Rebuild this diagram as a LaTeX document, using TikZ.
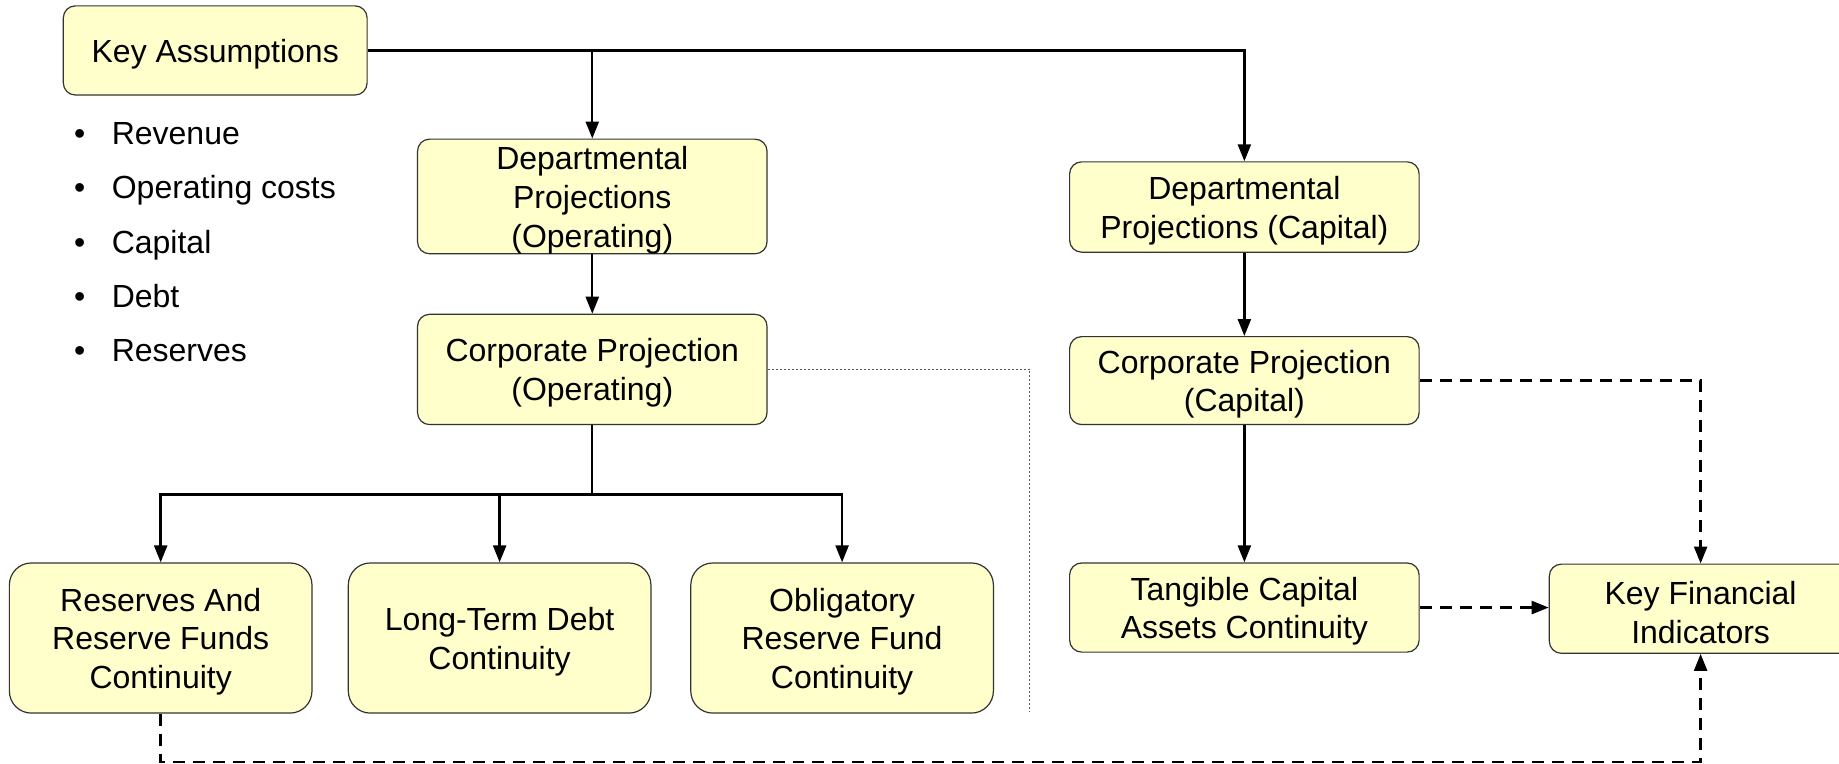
\documentclass[tikz,border=0pt]{standalone}
\usepackage{fontspec}
\setmainfont{Liberation Sans}
\usetikzlibrary{arrows.meta}
\definecolor{boxfill}{HTML}{FFFFCC}
\definecolor{boxline}{HTML}{333333}
\def\pxu{0.5865pt}
\newcommand\topstrut{\rule{0pt}{15.2pt}}
\tikzset{
  box/.style={draw=boxline, fill=boxfill, rounded corners=6pt, align=center,
    font=\fontsize{16}{19.4}\selectfont, inner sep=0pt, line width=0.6pt},
  bigbox/.style={box, rounded corners=11pt},
  btext/.style={font=\fontsize{16}{19.4}\selectfont, inner sep=0pt, anchor=base},
  link/.style={line width=1.2pt, -{Triangle[length=8.5pt,width=6.5pt]}},
  plain/.style={line width=1.2pt},
  dlink/.style={line width=1.2pt, dash pattern=on 6pt off 4pt, -{Triangle[length=8.5pt,width=6.5pt]}},
  dotline/.style={line width=0.4pt, gray!70!black, dash pattern=on 1pt off 1pt},
}
\begin{document}
\begin{tikzpicture}[x=0.5865pt, y=-0.5865pt]
\useasboundingbox (0,0) rectangle (1568,651);

% boxes
\node[box, minimum width=259*\pxu, minimum height=76*\pxu] (ka) at (183.5,43) {\topstrut Key Assumptions};
\node[box, minimum width=298*\pxu, minimum height=95*\pxu] (do) at (505,167.5) {\topstrut Departmental\\Projections\\(Operating)};
\node[box, minimum width=298*\pxu, minimum height=94*\pxu] (co) at (505,315) {\topstrut Corporate Projection\\(Operating)};
\node[box, minimum width=298*\pxu, minimum height=77*\pxu] (dc) at (1061,176.5) {\topstrut Departmental\\Projections (Capital)};
\node[box, minimum width=298*\pxu, minimum height=75*\pxu] (cc) at (1061,324.5) {\topstrut Corporate Projection\\(Capital)};
\node[bigbox, minimum width=258*\pxu, minimum height=128*\pxu] (rf) at (137,544) {\topstrut Reserves And\\Reserve Funds\\Continuity};
\node[bigbox, minimum width=258*\pxu, minimum height=128*\pxu] (lt) at (426,544) {\topstrut Long-Term Debt\\Continuity};
\node[bigbox, minimum width=258*\pxu, minimum height=128*\pxu] (ob) at (718,544) {\topstrut Obligatory\\Reserve Fund\\Continuity};
\node[box, minimum width=298*\pxu, minimum height=76*\pxu] (tc) at (1061,518) {\topstrut Tangible Capital\\Assets Continuity};
\node[box, minimum width=258*\pxu, minimum height=76*\pxu] (kfi) at (1450,519) {\topstrut Key Financial\\Indicators};

% bullet list
\foreach \i/\t/\yy in {1/Revenue/123, 2/Operating costs/169, 3/Capital/216, 4/Debt/262, 5/Reserves/308} {
  \node[btext] (bul\i) at (68,\yy) {•};
  \node[btext, anchor=base west] (itm\i) at (95,\yy) {\t};
}

% connectors
\draw[link] (ka.east) -| (dc.north);
\draw[link] (ka.east -| do.north) -- (do.north);
\draw[link] (do.south) -- (co.north);
\path (co.south) ++(0,59) coordinate (split);
\draw[plain] (co.south) -- (split);
\draw[link] (split) -| (rf.north);
\draw[link] (split) -| (ob.north);
\draw[link] (split -| lt.north) -- (lt.north);
\coordinate (dotend) at (878,607);
\draw[dotline] (co.east) -| (dotend);
\draw[link] (dc.south) -- (cc.north);
\draw[link] (cc.south) -- (tc.north);
\draw[dlink] (cc.east) -| (kfi.north);
\draw[dlink] (tc.east) -- (tc.east -| kfi.west);
\draw[dlink] (rf.south) -- ++(0,41) -| (kfi.south);
\end{tikzpicture}
\end{document}
